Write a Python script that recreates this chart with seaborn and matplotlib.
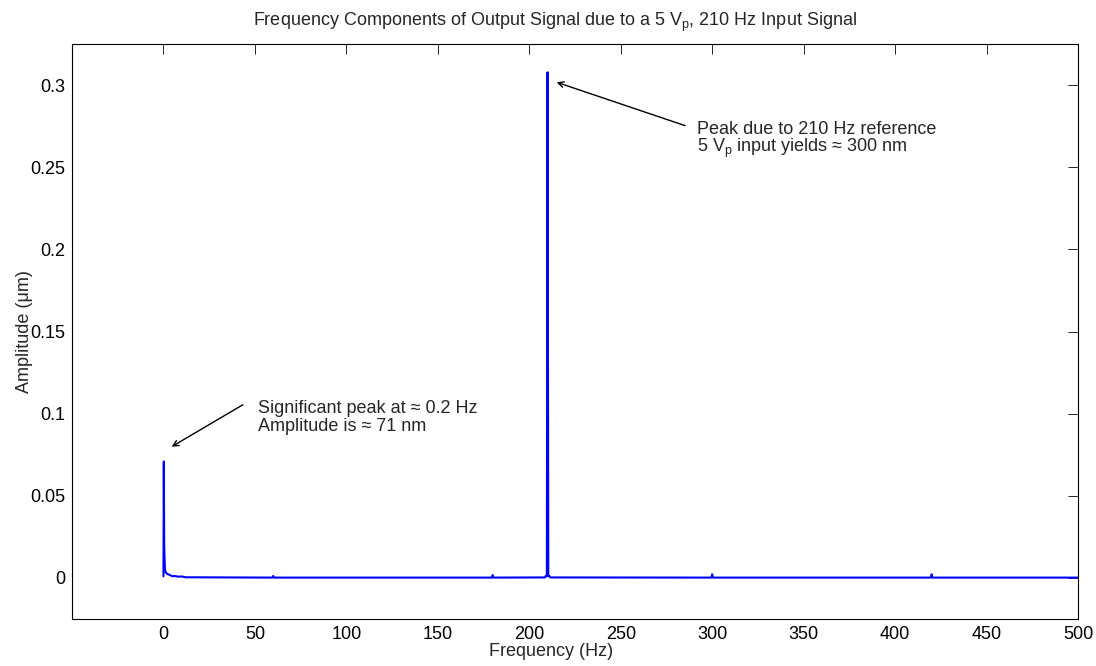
import numpy as np
import pandas as pd
import matplotlib
matplotlib.use("Agg")
import matplotlib.pyplot as plt
import seaborn as sns

# ------------------------------
# DATA
# ------------------------------
freq_hz = [0.0, 0.2, 0.4, 0.6, 0.8, 1.0, 1.5, 2.0, 3.0, 4.0, 5.0, 6.0, 8.0, 10.0, 12.0,
           59.6, 60.0, 60.4, 179.6, 180.0, 180.4,
           208.5, 209.0, 209.6, 210.0, 210.4, 211.0, 211.5,
           299.6, 300.0, 300.4, 419.6, 420.0, 420.4, 500.0]
amp_um = [0.001, 0.0709, 0.021, 0.012, 0.006, 0.004, 0.003, 0.0025, 0.002, 0.0015, 0.001, 0.0012, 0.0008, 0.0009, 0.0004,
          0.0002, 0.0012, 0.0002, 0.0002, 0.0018, 0.0002,
          0.0003, 0.0012, 0.0010, 0.3078, 0.0010, 0.0012, 0.0003,
          0.0002, 0.0022, 0.0002, 0.0002, 0.0022, 0.0002, 0.0002]

x_ticks = [0, 50, 100, 150, 200, 250, 300, 350, 400, 450, 500]
y_ticks = [0, 0.05, 0.1, 0.15, 0.2, 0.25, 0.3]
y_tick_labels = ["0", "0.05", "0.1", "0.15", "0.2", "0.25", "0.3"]

df = pd.DataFrame({"Frequency": freq_hz, "Amplitude": amp_um})

# ------------------------------
# STYLE
# ------------------------------
sns.set_style("white")
plt.rcParams["font.family"] = ["Liberation Sans", "DejaVu Sans"]
plt.rcParams["mathtext.fontset"] = "custom"
plt.rcParams["mathtext.rm"] = "Liberation Sans"
FS = 13

fig = plt.figure(figsize=(10.96, 6.66), dpi=100)
ax = fig.add_axes([72 / 1096, 1 - 619 / 666, 1006 / 1096, 575 / 666])

sns.lineplot(data=df, x="Frequency", y="Amplitude", color=(0, 0, 1), linewidth=1.5, ax=ax)

ax.set_xlim(-50, 500)
ax.set_ylim(-0.025, 0.325)
ax.set_xticks(x_ticks)
ax.set_xticklabels([str(t) for t in x_ticks])
ax.set_yticks(y_ticks)
ax.set_yticklabels(y_tick_labels)
ax.tick_params(direction="in", length=7, width=0.6, top=True, right=True,
               labelsize=FS, colors="black", pad=5)
for s in ax.spines.values():
    s.set_color("black")
    s.set_linewidth(0.8)
ax.grid(False)

ax.set_xlabel("Frequency (Hz)", fontsize=FS)
ax.xaxis.set_label_coords((551 - 72) / 1006, -0.041)
ax.set_ylabel("Amplitude (\u03bcm)", fontsize=FS, labelpad=-2)

fig.text(253 / 1096, 1 - 26 / 666,
         r"Frequency Components of Output Signal due to a 5 $\mathregular{V_p}$, 210 Hz Input Signal",
         ha="left", va="baseline", fontsize=FS)

# ------------------------------
# ANNOTATIONS
# ------------------------------
arrow = dict(arrowstyle="->", color="black", lw=1.0, shrinkA=0, shrinkB=0)

ax.annotate("", xy=(4.5, 0.0799), xytext=(43.4, 0.1054), arrowprops=arrow)
ax.text(51.6, 0.1005, "Significant peak at \u2248 0.2 Hz", ha="left", va="baseline", fontsize=FS)
ax.text(51.6, 0.0896, "Amplitude is \u2248 71 nm", ha="left", va="baseline", fontsize=FS)

ax.annotate("", xy=(215, 0.3017), xytext=(285.2, 0.2753), arrowprops=arrow)
ax.text(291.7, 0.2703, "Peak due to 210 Hz reference", ha="left", va="baseline", fontsize=FS)
ax.text(291.7, 0.2594, "5 $\\mathregular{V_p}$ input yields \u2248 300 nm", ha="left", va="baseline", fontsize=FS)

fig.savefig("out.png", dpi=100)
